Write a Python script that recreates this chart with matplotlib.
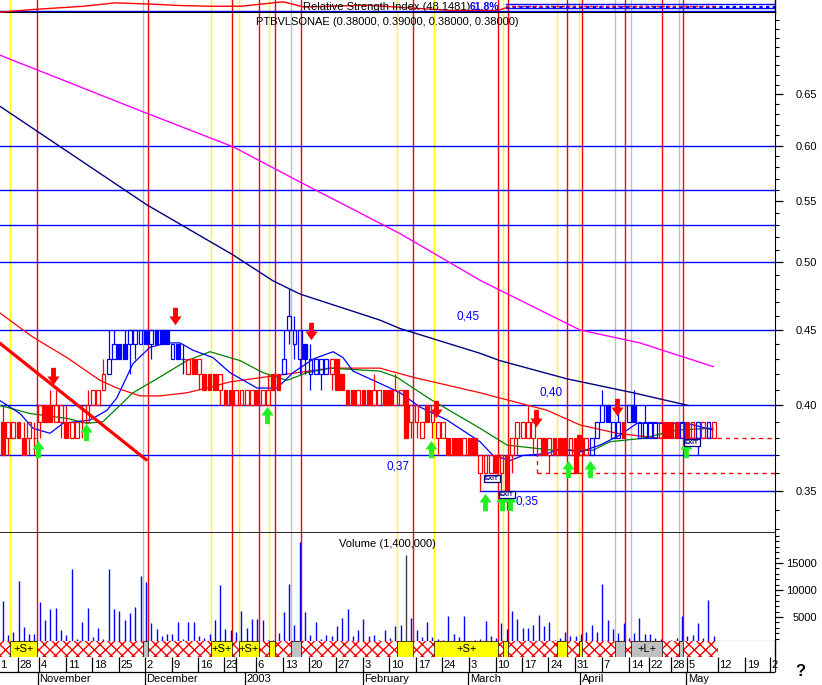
import numpy as np
import matplotlib
matplotlib.use('Agg')
import matplotlib.pyplot as plt
from matplotlib.path import Path
from matplotlib.patches import Rectangle
from matplotlib.ticker import FixedLocator, NullFormatter, FuncFormatter

plt.rcParams['font.family'] = ['Liberation Sans', 'DejaVu Sans']

# ---------------- data (prices in cents) ----------------
opens = [39,38,38,39,38,38,38,39,40,40, 39,39,39,38,38,39,39,40,40,41,
         42,43,44,44,44,44,44,45,44,45, 45,45,43,44,43,42,43,42,42,42,
         42,41,41,41,40,40,40,40,41,40, 40,42,42,42,45,44,43,44,42,42,
         42,42,42,43,42,41,41,40,41,41, 40,40,41,41,40,40,41,39,39,38,
         40,39,38,38,38,38,38,37,38,38, 36,36,36,37,36,37,37,38,38,38,
         38,37,38,37,38,38,38,37,38,37, 37,37,38,39,40,38,38,39,39,40,
         38,38,38,38,38,39,39,39,38,39, 38,38,38,38,38]
highs = [40,39,39,39,39,39,39,40,40,41, 41,40,40,39,39,40,41,41,41,43,
         45,45,44,45,45,45,45,45,45,45, 45,45,44,44,44,43,43,43,42,42,
         42,42,41,41,41,41,41,41,41,41, 42,42,42,45,48,46,45,44,44,43,
         43,43,43,43,42,41,41,41,41,41, 42,41,41,41,42,41,41,40,40,39,
         40,40,39,39,38,38,38,38,38,38, 37,37,37,37,37,37,38,39,39,40,
         39,38,38,38,38,38,38,38,38,38, 38,38,39,41,40,39,40,39,40,41,
         39,40,39,39,39,39,39,39,39,39, 39,39,39,39,39]
lows =  [37,37,38,38,37,37,37,38,39,39, 39,38,38,38,38,38,39,40,40,41,
         42,43,43,43,42,43,44,44,43,44, 44,44,43,43,42,42,42,41,41,41,
         41,40,40,40,40,40,40,40,40,40, 40,41,41,42,44,43,42,42,41,42,
         41,42,41,41,41,40,40,40,40,40, 40,40,40,40,40,40,38,38,38,38,
         39,38,37,38,37,37,37,37,37,37, 35,36,36,36,35,34,36,37,38,38,
         37,37,37,36,37,37,37,37,36,37, 37,37,38,39,39,38,38,38,39,39,
         38,38,38,38,38,38,38,38,38,38, 38,37,38,38,38]
closes = [37,39,39,38,37,39,38,40,39,39, 40,40,38,39,39,39,40,41,41,42,
          43,44,43,43,45,45,45,44,45,44, 44,44,44,43,43,43,42,43,41,41,
          41,42,40,40,41,41,41,41,40,41, 41,41,41,43,46,45,45,43,43,43,
          43,43,43,41,41,40,40,41,40,40, 41,41,40,40,41,41,38,40,40,39,
          39,40,39,39,37,37,37,38,37,37, 37,37,37,36,37,35,38,39,39,39,
          39,38,37,38,37,37,37,38,36,38, 38,38,39,40,39,39,39,38,40,39,
          39,39,39,39,39,38,38,38,39,38, 39,39,39,39,39]
trend = list("r" * 20 + "b" * 15 + "r" * 18 + "b" * 9 + "r" * 49 + "b" * 6 + "r"
             + "b" * 6 + "r" * 4 + "b" + "rr" + "b" + "r" + "b" + "r")

volume = [7900,1700,2200,11700,3100,1900,1900,7800,4400,6400,
          6700,2500,1700,13900,1000,4100,6700,1300,3000,900,
          13800,6400,6200,4500,5800,6900,12500,11400,3900,2700,
          1400,1800,1900,4100,900,4100,4100,1500,1200,1900,
          4500,11000,2700,2500,2300,6200,2900,4600,4600,4400,
          800,800,2100,6000,11200,3600,18800,5900,1700,4100,
          1000,1700,1400,3400,4800,6400,1500,2500,4600,1400,
          1700,800,2500,1100,3300,3500,16400,4800,2500,1300,
          4000,1300,1000,700,5100,1900,1300,5200,600,800,
          900,4300,1500,1100,3800,2700,6100,4600,2900,3000,
          3500,5400,3300,4000,800,1200,2200,1400,1400,1800,
          2300,3600,2300,11200,4400,2700,2000,3900,1200,2000,
          4900,1900,1900,1200,1000,0,800,1200,5100,1400,
          1700,3800,1200,8100,1500]

# moving averages (day index, price)
ma_magenta_x = [-0.49, 27.2, 43.4, 56.0, 74.9, 90.1, 108.8, 120.1, 133.9]
ma_magenta_y = [0.691, 0.631, 0.599, 0.567, 0.523, 0.486, 0.450, 0.441, 0.425]
ma_navy_x = [-0.49, 27.2, 43.4, 50.9, 56.0, 71.1, 74.9, 89.9, 93.7, 106.3, 118.8, 129.2]
ma_navy_y = [0.638, 0.547, 0.506, 0.486, 0.476, 0.457, 0.451, 0.434, 0.429, 0.417, 0.408, 0.400]
ma_red_x = [-0.49, 5.73, 12.13, 18.35, 21.56, 25.89, 29.66, 34.75, 39.6, 42.85, 55.47,
            61.69, 71.11, 77.33, 89.96, 102.58, 108.8, 115.77, 123.87, 133.86]
ma_red_y = [0.462, 0.445, 0.431, 0.416, 0.411, 0.406, 0.406, 0.408, 0.412, 0.415, 0.421,
            0.424, 0.424, 0.418, 0.408, 0.397, 0.388, 0.383, 0.380, 0.380]
ma_green_x = [-0.49, 5.16, 12.13, 15.9, 18.92, 24.57, 29.09, 34.75, 39.08, 44.73, 49.07,
              53.59, 57.36, 61.69, 71.11, 74.31, 80.53, 89.96, 95.04, 103.71, 111.25,
              114.45, 120.67, 127.08, 133.86]
ma_green_y = [0.400, 0.395, 0.392, 0.389, 0.390, 0.408, 0.417, 0.429, 0.435, 0.429, 0.421,
              0.416, 0.421, 0.424, 0.422, 0.418, 0.404, 0.386, 0.376, 0.373, 0.373,
              0.378, 0.380, 0.385, 0.386]
ma_blue_x = [-0.49, 3.28, 5.73, 8.93, 11.38, 16.47, 19.67, 21.56, 24.57, 27.77, 30.98,
             33.43, 35.88, 39.65, 42.85, 47.94, 51.7, 54.72, 58.49, 62.26, 64.14, 66.03,
             71.11, 74.88, 78.65, 83.74, 89.96, 92.41, 95.6, 98.05, 102.58, 105.03,
             108.8, 112.57, 116.34, 119.54, 123.87, 128.96, 133.86]
ma_blue_y = [0.403, 0.395, 0.386, 0.383, 0.389, 0.391, 0.397, 0.405, 0.427, 0.438, 0.441,
             0.441, 0.436, 0.431, 0.421, 0.411, 0.411, 0.421, 0.430, 0.435, 0.431, 0.422,
             0.414, 0.408, 0.399, 0.391, 0.378, 0.370, 0.367, 0.370, 0.371, 0.374,
             0.372, 0.376, 0.382, 0.389, 0.389, 0.389, 0.385]

trend_line_x = [-0.49, 27.02]
trend_line_y = [0.4407, 0.3676]

rsi_x = [-0.49, 5.35, 15.34, 21.2, 28.15, 33.05, 39.08, 44.92, 52.84, 56.79, 68.66,
         78.65, 84.49, 93.35, 94.85]
rsi_y = [6, 26, 52, 78, 68, 58, 52, 52, 86, 46, 60, 34, 20, 20, 40]

blue_levels = [0.60, 0.56, 0.53, 0.50, 0.45, 0.40, 0.37]
level_035_start = 90.0
red_dashed_levels = [0.38, 0.36]
red_dashed_starts = [134.6, 100.7]

level_labels = ['0,45', '0,40', '0,37', '0,35']
level_label_x = [87.7, 103.3, 74.5, 98.8]
level_label_y = [0.4597, 0.4082, 0.3636, 0.3443]

sell_x = [9.5, 32.5, 58.1, 81.7, 100.5, 108.6, 115.8]
sell_y = [0.4185, 0.4597, 0.449, 0.398, 0.392, 0.377, 0.3988]
buy_x = [6.67, 15.7, 49.8, 80.7, 90.9, 94.1, 95.6, 106.5, 110.7, 128.8]
buy_y = [0.374, 0.3835, 0.3938, 0.3735, 0.3443, 0.3443, 0.3443, 0.3625, 0.3625, 0.374]
exit_x = [92.2, 95.0, 129.9]
exit_y = [0.357, 0.348, 0.3775]

# signal periods: (start, end, label)
short_periods = [(1.35, 6.43, '+S+'), (39.3, 43.3, '+S+'), (44.45, 48.4, '+S+'),
                 (50.25, 51.42, ''), (74.4, 77.27, ''), (81.3, 93.4, '+S+'),
                 (94.3, 95.2, ''), (104.43, 106.42, ''), (108.55, 109.25, '')]
long_periods = [(26.37, 27.35, ''), (54.3, 56.3, ''), (115.3, 117.3, ''),
                (118.35, 124.33, '+L+'), (127.4, 128.2, '')]
signal_bar_end = 134.88

date_ticks = [-0.7, 2.9, 6.86, 11.95, 16.85, 21.84, 26.83, 31.83, 36.82, 41.72, 43.98,
              47.75, 52.84, 57.74, 62.82, 67.91, 72.81, 77.9, 82.8, 87.88, 92.88, 97.87,
              102.86, 107.86, 112.95, 118.04, 121.8, 125.95, 128.96, 134.8, 139.9, 144.6]
date_labels = ['1', '28', '4', '11', '18', '25', '2', '9', '16', '23', '',
               '6', '13', '20', '27', '3', '10', '17', '24', '3', '10', '17',
               '24', '31', '7', '14', '22', '28', '5', '12', '19', '2']
month_pos = [6.63, 26.83, 45.7, 67.9, 87.7, 108.8, 128.8]
month_labels = ['November', 'December', '2003', 'February', 'March', 'April', 'May']

price_ticks = [0.35, 0.40, 0.45, 0.50, 0.55, 0.60, 0.65]
vol_ticks = [5000, 10000, 15000]

# ---------------- figure ----------------
W, H = 822, 685
fig = plt.figure(figsize=(W / 100, H / 100), dpi=100)


def rect(x0, y0, x1, y1):
    return [x0 / W, 1 - y1 / H, (x1 - x0) / W, (y1 - y0) / H]


XMIN, XMAX = -0.49, 145.54
RED, BLUE, NAVY, MAG, GRN = '#ff0000', '#0000ff', '#000080', '#ff00ff', '#008000'
YEL, GRAY = '#ffff00', '#c0c0c0'

ax_rsi = fig.add_axes(rect(0, 0, 775, 13))
ax = fig.add_axes(rect(0, 13, 775, 533))
ax_vol = fig.add_axes(rect(0, 533, 775, 641))
ax_sig = fig.add_axes(rect(0, 641, 775, 657))
ax_date = fig.add_axes(rect(0, 657, 775, 685))

for a in (ax_rsi, ax, ax_vol, ax_sig, ax_date):
    a.set_xlim(XMIN, XMAX)
    a.tick_params(axis='x', bottom=False, labelbottom=False, top=False)
    a.spines['left'].set_visible(False)
    a.spines['top'].set_visible(False)

# vertical signal lines
vlines_spec = []
for s, e, _ in short_periods:
    vlines_spec.append((s, YEL))
    vlines_spec.append((e, RED))
for s, e, _ in long_periods:
    vlines_spec.append((s, GRAY))
    vlines_spec.append((e, RED))
for a in (ax_rsi, ax, ax_vol):
    for xv, c in vlines_spec:
        a.axvline(xv, color=c, lw=1.0, zorder=1)

# ---- RSI strip ----
ax_rsi.set_ylim(0, 100)
ax_rsi.plot(rsi_x, rsi_y, color=RED, lw=1.0, zorder=3)
ax_rsi.plot([rsi_x[-1], 134], [55, 55], color=RED, lw=1.0, ls=(0, (2, 2)), zorder=3)
ax_rsi.axhline(14, color=BLUE, lw=1.0, zorder=2)
ax_rsi.plot([94.9, 145.5], [73, 73], color=BLUE, lw=1.0, zorder=2)
ax_rsi.plot([94.9, 145.5], [41, 41], color=BLUE, lw=1.0, zorder=2)
ax_rsi.plot([94.9, 145.5], [50, 50], color=BLUE, lw=1.6, ls=(0, (1.5, 1.5)), zorder=2)
ax_rsi.set_yticks([])
ax_rsi.yaxis.tick_right()
ax_rsi.spines['bottom'].set_linewidth(1.6)
ax_rsi.spines['right'].set_linewidth(1.0)
fig.text(387 / W, 1 - 12.5 / H, 'Relative Strength Index (48.1481)', ha='center',
         va='bottom', fontsize=8)
fig.text(484 / W, 1 - 12.5 / H, '61.8%', ha='center', va='bottom', fontsize=7.5,
         color=BLUE, fontweight='bold')

# ---- main price panel ----
ax.set_yscale('log')
ax.set_ylim(0.3278, 0.738)
for lv in blue_levels:
    ax.axhline(lv, color=BLUE, lw=1.0, zorder=1.5)
ax.plot([level_035_start, XMAX], [0.35, 0.35], color=BLUE, lw=1.0, zorder=1.5)
for lv, st in zip(red_dashed_levels, red_dashed_starts):
    ax.plot([st, XMAX], [lv, lv], color=RED, lw=1.0, ls=(0, (3, 3)), zorder=1.5)
ax.plot([red_dashed_starts[1]] * 2, [0.36, 0.37], color=RED, lw=1.0, ls=(0, (3, 3)), zorder=1.5)

ax.plot(ma_magenta_x, ma_magenta_y, color=MAG, lw=1.0, zorder=2)
ax.plot(ma_navy_x, ma_navy_y, color=NAVY, lw=1.0, zorder=2)
ax.plot(ma_red_x, ma_red_y, color=RED, lw=0.9, zorder=2)
ax.plot(ma_green_x, ma_green_y, color=GRN, lw=0.9, zorder=2)
ax.plot(ma_blue_x, ma_blue_y, color=BLUE, lw=0.9, zorder=2.5)
ax.plot(trend_line_x, trend_line_y, color=RED, lw=2.3, zorder=2.6)

# candles
o = np.array(opens) / 100.0
h = np.array(highs) / 100.0
l = np.array(lows) / 100.0
c = np.array(closes) / 100.0
xd = np.arange(len(o))
cols = [RED if t == 'r' else BLUE for t in trend]
top = np.maximum(o, c)
bot = np.minimum(o, c)
faces = [col if cc < oo else 'none' for col, cc, oo in zip(cols, c, o)]
ax.vlines(xd, top, h, colors=cols, lw=0.9, zorder=3)
ax.vlines(xd, l, bot, colors=cols, lw=0.9, zorder=3)
ax.bar(xd, top - bot, bottom=bot, width=0.72, color=faces, edgecolor=cols,
       linewidth=0.9, zorder=3)

# arrows
down_verts = [(-0.14, 0.5), (0.14, 0.5), (0.14, 0.0), (0.35, 0.0), (0.0, -0.5),
              (-0.35, 0.0), (-0.14, 0.0), (-0.14, 0.5)]
down_arrow = Path(down_verts, closed=True)
up_arrow = Path([(x, -y) for x, y in down_verts], closed=True)
ax.plot(sell_x, sell_y, ls='none', marker=down_arrow, markersize=12.5,
        color='#ff0000', markeredgewidth=0, zorder=5)
ax.plot(buy_x, buy_y, ls='none', marker=up_arrow, markersize=12.5,
        color='#22f022', markeredgewidth=0, zorder=5)
for ex, ey in zip(exit_x, exit_y):
    ax.text(ex, ey, 'EXIT', fontsize=4.5, color=NAVY, fontweight='bold',
            ha='center', va='center', zorder=6,
            bbox=dict(boxstyle='square,pad=0.15', fc='white', ec=NAVY, lw=0.9))

for t, lx, ly in zip(level_labels, level_label_x, level_label_y):
    ax.text(lx, ly, t, color=BLUE, fontsize=8.5, ha='center', va='center', zorder=6)

fig.text(387 / W, 1 - 22 / H, 'PTBVLSONAE (0.38000, 0.39000, 0.38000, 0.38000)',
         ha='center', va='center', fontsize=8)

ax.yaxis.tick_right()
ax.yaxis.set_major_locator(FixedLocator(price_ticks))
ax.yaxis.set_minor_locator(FixedLocator(np.round(np.arange(0.33, 0.74, 0.01), 2)))
ax.yaxis.set_major_formatter(FuncFormatter(lambda v, p: f'{v:.2f}'))
ax.yaxis.set_minor_formatter(NullFormatter())
ax.tick_params(axis='y', which='major', length=6, width=0.9, labelsize=8, pad=24)
ax.tick_params(axis='y', which='minor', length=3, width=0.8)
for lbl in ax.get_yticklabels():
    lbl.set_horizontalalignment('right')
ax.spines['bottom'].set_linewidth(1.2)

# ---- volume ----
ax_vol.set_ylim(555, 20555)
vcols = ['#404040' if i == 76 else BLUE for i, v in enumerate(volume)]
ax_vol.vlines(np.arange(len(volume)), 0, volume, colors=vcols, lw=1.0, zorder=3)
ax_vol.yaxis.tick_right()
ax_vol.yaxis.set_major_locator(FixedLocator(vol_ticks))
ax_vol.yaxis.set_minor_locator(FixedLocator(list(range(1000, 20001, 1000))))
ax_vol.yaxis.set_major_formatter(FuncFormatter(lambda v, p: f'{int(v)}'))
ax_vol.yaxis.set_minor_formatter(NullFormatter())
ax_vol.tick_params(axis='y', which='major', length=6, width=0.9, labelsize=8, pad=24)
ax_vol.tick_params(axis='y', which='minor', length=3, width=0.8)
for lbl in ax_vol.get_yticklabels():
    lbl.set_horizontalalignment('right')
ax_vol.text(0.5, 0.9, 'Volume (1,400,000)', transform=ax_vol.transAxes,
            ha='center', va='center', fontsize=8)
ax_vol.set_xlim(XMIN, XMAX)

# ---- signal bar ----
ax_sig.set_ylim(0, 1)
ax_sig.set_yticks([])
ax_sig.add_patch(Rectangle((XMIN, 0), signal_bar_end - XMIN, 1, facecolor='white',
                           edgecolor=RED, hatch='xxx', lw=0, zorder=1))
for s, e, lab in short_periods:
    ax_sig.add_patch(Rectangle((s, 0), e - s, 1, facecolor=YEL, edgecolor='black',
                               lw=0.5, zorder=2))
    if lab:
        ax_sig.text((s + e) / 2, 0.5, lab, ha='center', va='center', fontsize=8, zorder=3)
for s, e, lab in long_periods:
    ax_sig.add_patch(Rectangle((s, 0), e - s, 1, facecolor=GRAY, edgecolor='black',
                               lw=0.5, zorder=2))
    if lab:
        ax_sig.text((s + e) / 2, 0.5, lab, ha='center', va='center', fontsize=8, zorder=3)
ax_sig.spines['bottom'].set_visible(False)
ax_sig.spines['right'].set_linewidth(1.0)

# ---- date axis ----
ax_date.set_ylim(0, 1)
ax_date.set_yticks([])
for sp in ax_date.spines.values():
    sp.set_visible(False)
xt = ax_date.get_xaxis_transform()
ax_date.vlines(date_ticks, 0.464, 1.0, colors='black', lw=0.9, transform=xt, clip_on=False)
for tx, tl in zip(date_ticks, date_labels):
    ax_date.text(tx + 0.3, 0.73, tl, ha='left', va='center', fontsize=8,
                 transform=xt, clip_on=False)
ax_date.axhline(0.464, color='black', lw=0.9)
ax_date.vlines(month_pos, 0.0, 0.464, colors='black', lw=0.9, transform=xt)
for mx, ml in zip(month_pos, month_labels):
    ax_date.text(mx + 0.3, 0.22, ml, ha='left', va='center', fontsize=8, transform=xt)
ax_date.vlines([XMAX], 0.464, 1.0, colors='black', lw=0.9, transform=xt, clip_on=False)

fig.text(800 / W, 1 - 671 / H, '?', ha='center', va='center', fontsize=12,
         fontweight='bold')

fig.savefig('out.png', dpi=100)
